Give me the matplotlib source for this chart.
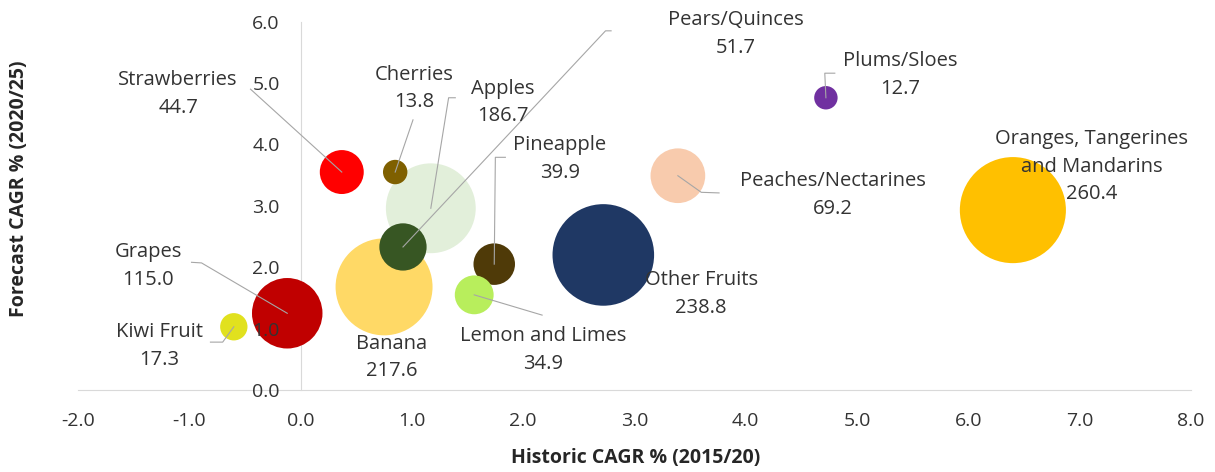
import matplotlib
matplotlib.use("Agg")
import matplotlib.pyplot as plt

# Fruit market bubble chart: historic vs forecast CAGR, bubble = market size
fruits = ["Apples", "Banana", "Pears/Quinces", "Strawberries", "Cherries",
          "Grapes", "Kiwi Fruit", "Pineapple", "Lemon and Limes",
          "Other Fruits", "Peaches/Nectarines", "Plums/Sloes",
          "Oranges, Tangerines\nand Mandarins"]
historic = [1.17, 0.75, 0.92, 0.37, 0.85, -0.12, -0.60, 1.74, 1.56,
            2.72, 3.39, 4.72, 6.40]
forecast = [2.96, 1.68, 2.33, 3.55, 3.55, 1.25, 1.03, 2.05, 1.55,
            2.20, 3.49, 4.76, 2.93]
size = [186.7, 217.6, 51.7, 44.7, 13.8, 115.0, 17.3, 39.9, 34.9,
        238.8, 69.2, 12.7, 260.4]
colors = ["#E2EFDA", "#FFD966", "#375623", "#FF0000", "#7F6000",
          "#C00000", "#E1E11E", "#4F3A08", "#B8EE5C",
          "#1F3864", "#F8CBAD", "#7030A0", "#FFC000"]

# label block centres (data units)
label_pos = [(1.82, 4.68), (0.82, 0.53), (3.91, 5.80), (-1.10, 4.82),
             (1.02, 4.91), (-1.37, 2.02), (-1.27, 0.72), (2.33, 3.76),
             (2.18, 0.65), (3.60, 1.56), (4.78, 3.18), (5.39, 5.13),
             (7.11, 3.64)]

# leader line start points / elbows, ends at the bubble centre
leaders = {
    "Apples": [(1.39, 4.76), (1.33, 4.76)],
    "Pears/Quinces": [(2.79, 5.85), (2.74, 5.85)],
    "Strawberries": [(-0.45, 4.90)],
    "Cherries": [(1.01, 4.40)],
    "Grapes": [(-0.98, 2.08), (-0.89, 2.07)],
    "Kiwi Fruit": [(-0.81, 0.78), (-0.70, 0.78)],
    "Pineapple": [(1.84, 3.79), (1.75, 3.79)],
    "Lemon and Limes": [(2.17, 1.22)],
    "Peaches/Nectarines": [(3.76, 3.21), (3.60, 3.22)],
    "Plums/Sloes": [(4.80, 5.16), (4.71, 5.16)],
}

plt.rcParams["font.family"] = ["Open Sans", "DejaVu Sans"]
text_col = "#333333"
axis_col = "#D9D9D9"

fig = plt.figure(figsize=(12.15, 4.72), dpi=100)
ax = fig.add_axes([0.0642, 0.1737, 0.916, 0.7805])
ax.set_xlim(-2, 8)
ax.set_ylim(0, 6)

ax.scatter(historic, forecast, s=[v * 22.4 for v in size], c=colors,
           edgecolors="none", zorder=3)

for name, hx, fy, (lx, ly), val in zip(fruits, historic, forecast, label_pos, size):
    ax.text(lx, ly, "%s\n%.1f" % (name, val), ha="center", va="center",
            fontsize=14.5, color=text_col, linespacing=1.5, zorder=5)
    if name in leaders:
        pts = leaders[name] + [(hx, fy)]
        ax.plot([p[0] for p in pts], [p[1] for p in pts], color="#A6A6A6",
                lw=0.8, zorder=4)

for s in ["top", "right"]:
    ax.spines[s].set_visible(False)
ax.spines["left"].set_position(("data", 0))
ax.spines["left"].set_color(axis_col)
ax.spines["bottom"].set_color(axis_col)
ax.spines["left"].set_zorder(2)
ax.spines["bottom"].set_zorder(2)
ax.xaxis.set_zorder(4)
ax.yaxis.set_zorder(4)
ax.set_xticks(range(-2, 9))
ax.set_yticks(range(0, 7))
ax.set_xticklabels(["%.1f" % v for v in range(-2, 9)])
ax.set_yticklabels(["%.1f" % v for v in range(0, 7)])
ax.tick_params(length=0, labelsize=14, labelcolor=text_col)
ax.tick_params(axis="y", pad=15)
ax.tick_params(axis="x", pad=16)

fig.text(0.523, 0.030, "Historic CAGR % (2015/20)", ha="center", va="center",
         fontsize=14, fontweight="bold", color="#262626")
fig.text(0.016, 0.60, "Forecast CAGR % (2020/25)", ha="center", va="center",
         rotation=90, fontsize=14, fontweight="bold", color="#262626")

fig.savefig("out.png", dpi=100)
